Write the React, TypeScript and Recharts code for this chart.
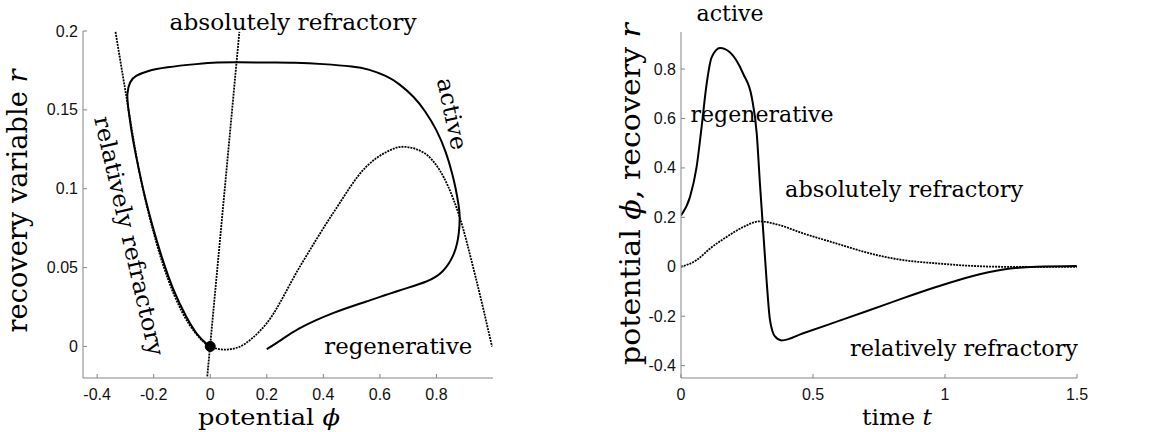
import React from 'react';
import { LineChart, Line, XAxis, YAxis, ReferenceDot } from 'recharts';

const AXIS_COLOR = '#858585';
const SERIF = '"DejaVu Serif", serif';
const SANS = '"Liberation Sans", Arial, sans-serif';

// ---- left panel: phase plane (potential phi vs recovery r) ----
const phaseXTicks = [-0.4, -0.2, 0, 0.2, 0.4, 0.6, 0.8];
const phaseYTicks = [0, 0.05, 0.1, 0.15, 0.2];

// trajectory, starting at phi = 0.2 and returning to rest
const orbitPhi = [0.2, 0.25, 0.317, 0.434, 0.552, 0.669, 0.762, 0.821, 0.862, 0.879, 0.882, 0.878, 0.868, 0.855, 0.833, 0.8, 0.76, 0.72, 0.67, 0.62, 0.56, 0.5, 0.4, 0.3, 0.2, 0.1, 0.025, -0.05, -0.151, -0.221, -0.262, -0.283, -0.293, -0.289, -0.276, -0.258, -0.235, -0.205, -0.17, -0.13, -0.085, -0.045, -0.015, 0];
const orbitR = [-0.0017, 0.004, 0.0116, 0.0211, 0.0285, 0.0355, 0.041, 0.0475, 0.059, 0.0718, 0.0825, 0.09, 0.1, 0.11, 0.123, 0.137, 0.149, 0.158, 0.166, 0.1715, 0.1755, 0.1775, 0.179, 0.1798, 0.18, 0.1802, 0.18, 0.179, 0.177, 0.1745, 0.1715, 0.1675, 0.16, 0.15, 0.134, 0.117, 0.098, 0.077, 0.056, 0.036, 0.019, 0.0075, 0.002, 0];

// phi-nullcline (dotted cubic)
const nullPhi = [-0.335, -0.3, -0.25, -0.2, -0.15, -0.1, -0.05, 0, 0.05, 0.1, 0.15, 0.2, 0.317, 0.434, 0.552, 0.62, 0.68, 0.73, 0.786, 0.84, 0.882, 0.938, 0.9965];
const nullR = [0.1994, 0.162, 0.11, 0.072, 0.043, 0.022, 0.008, 0, -0.002, -0.0005, 0.0055, 0.0148, 0.0506, 0.0844, 0.114, 0.123, 0.1266, 0.125, 0.118, 0.102, 0.082, 0.0443, 0];

// r-nullcline (dotted, nearly vertical)
const rNullPhi = [-0.0105, 0.103];
const rNullR = [-0.019, 0.1994];

const restPoint = { x: 0, y: 0 };

// ---- right panel: time courses ----
const timeXTicks = [0, 0.5, 1, 1.5];
const timeYTicks = [-0.4, -0.2, 0, 0.2, 0.4, 0.6, 0.8];

const phiT = [0, 0.034, 0.059, 0.078, 0.097, 0.116, 0.148, 0.186, 0.236, 0.268, 0.287, 0.299, 0.312, 0.325, 0.337, 0.356, 0.381, 0.463, 0.59, 0.716, 0.842, 0.969, 1.095, 1.221, 1.347, 1.499];
const phiV = [0.208, 0.282, 0.403, 0.565, 0.739, 0.847, 0.885, 0.867, 0.78, 0.686, 0.538, 0.336, 0.135, -0.067, -0.215, -0.282, -0.298, -0.269, -0.222, -0.175, -0.127, -0.081, -0.04, -0.011, 0, 0.003];

const recT = [0, 0.059, 0.11, 0.173, 0.236, 0.299, 0.362, 0.463, 0.59, 0.716, 0.842, 0.969, 1.095, 1.22, 1.5];
const recV = [0, 0.027, 0.074, 0.121, 0.161, 0.184, 0.172, 0.135, 0.094, 0.054, 0.027, 0.0137, 0.004, 0, 0];

// annotations: text and anchor in data coords
const phaseNotes = [
  { text: 'absolutely refractory', x: 0.293, y: 0.2009 },
  { text: 'regenerative', x: 0.665, y: -0.0049 },
  { text: 'active', x: 0.852, y: 0.1473, angle: 78 },
  { text: 'relatively refractory', x: -0.29, y: 0.07, angle: 77 },
];
const timeNotes = [
  { text: 'active', x: 0.186, y: 0.995 },
  { text: 'regenerative', x: 0.307, y: 0.585 },
  { text: 'absolutely refractory', x: 0.845, y: 0.282 },
  { text: 'relatively refractory', x: 1.072, y: -0.36 },
];
const noteLength: Record<string, number[]> = {
  phase: [247, 148, 73, 245],
  time: [67, 143, 238, 228],
};

const zip = (xs: number[], ys: number[]) => xs.map((x, i) => ({ x, y: ys[i] }));

const XTick = (props: any) => {
  const { x, y, payload } = props;
  return (
    <g>
      <line x1={x} y1={y} x2={x} y2={y - 4} stroke={AXIS_COLOR} />
      <text x={x} y={y + 16} textAnchor="middle" dominantBaseline="central" fontFamily={SANS} fontSize={16} fill="#111">
        {String(payload.value)}
      </text>
    </g>
  );
};

const YTick = (props: any) => {
  const { x, y, payload } = props;
  return (
    <g>
      <line x1={x} y1={y} x2={x + 4} y2={y} stroke={AXIS_COLOR} />
      <text x={x - 5} y={y} textAnchor="end" dominantBaseline="central" fontFamily={SANS} fontSize={16} fill="#111">
        {String(payload.value)}
      </text>
    </g>
  );
};

const noteShape = (text: string, len: number, angle?: number) => (p: any) => {
  const { cx, cy } = p;
  return (
    <text
      x={cx}
      y={cy}
      dy={angle ? '0.3em' : 0}
      textAnchor="middle"
      fontFamily={SERIF}
      fontSize={23}
      fill="#000"
      textLength={len}
      lengthAdjust="spacingAndGlyphs"
      transform={angle ? `rotate(${angle} ${cx} ${cy})` : undefined}
    >
      {text}
    </text>
  );
};

const XTitle = (props: any) => {
  const vb = props.viewBox || {};
  const cx = vb.x + vb.width / 2 + props.shift;
  return (
    <text x={cx} y={vb.y + 47} textAnchor="middle" fontFamily={SERIF} fontSize={23} textLength={props.len} lengthAdjust="spacingAndGlyphs">
      <tspan>{props.main}</tspan>
      <tspan fontStyle="italic">{props.sym}</tspan>
    </text>
  );
};

const YTitle = (props: any) => {
  const vb = props.viewBox || {};
  const cx = vb.x + props.left;
  const cy = vb.y + vb.height / 2 + props.shift;
  return (
    <text x={cx} y={cy} dy="0.3em" textAnchor="middle" fontFamily={SERIF} fontSize={props.size} textLength={props.len} lengthAdjust="spacingAndGlyphs" transform={`rotate(-90 ${cx} ${cy})`}>
      <tspan>{props.main}</tspan>
      <tspan fontStyle="italic">{props.sym}</tspan>
      {props.tail ? <tspan>{props.tail}</tspan> : null}
      {props.sym2 ? <tspan fontStyle="italic">{props.sym2}</tspan> : null}
    </text>
  );
};

function PhasePlane() {
  return (
    <LineChart width={560} height={432} margin={{ top: 31, right: 67, bottom: 0, left: 0 }}>
      <XAxis
        type="number"
        dataKey="x"
        domain={[-0.45, 1]}
        allowDataOverflow
        ticks={phaseXTicks}
        interval={0}
        tickSize={0}
        tickMargin={0}
        tickLine={false}
        tick={<XTick />}
        axisLine={{ stroke: AXIS_COLOR }}
        height={54}
        label={<XTitle shift={-19} len={142} main="potential " sym="ϕ" />}
      />
      <YAxis
        type="number"
        dataKey="y"
        domain={[-0.02, 0.2]}
        allowDataOverflow
        ticks={phaseYTicks}
        interval={0}
        tickSize={0}
        tickMargin={0}
        tickLine={false}
        tick={<YTick />}
        axisLine={{ stroke: AXIS_COLOR }}
        width={83}
        label={<YTitle left={19} shift={-3.5} size={27} len={263} main="recovery variable " sym="r" />}
      />
      <Line data={zip(nullPhi, nullR)} dataKey="y" type="monotone" stroke="#000" strokeWidth={1.8} strokeDasharray="2 1" dot={false} activeDot={false} isAnimationActive={false} />
      <Line data={zip(rNullPhi, rNullR)} dataKey="y" type="linear" stroke="#000" strokeWidth={1.8} strokeDasharray="2 1" dot={false} activeDot={false} isAnimationActive={false} />
      <Line data={zip(orbitPhi, orbitR)} dataKey="y" type="natural" stroke="#000" strokeWidth={2} dot={false} activeDot={false} isAnimationActive={false} />
      <ReferenceDot x={restPoint.x} y={restPoint.y} r={5} fill="#000" stroke="#000" ifOverflow="visible" />
      {phaseNotes.map((n, i) => (
        <ReferenceDot key={n.text + i} x={n.x} y={n.y} r={0} ifOverflow="visible" shape={noteShape(n.text, noteLength.phase[i], n.angle)} />
      ))}
    </LineChart>
  );
}

function TimeCourse() {
  return (
    <LineChart width={581} height={432} margin={{ top: 32, right: 74, bottom: 0, left: 0 }}>
      <XAxis
        type="number"
        dataKey="x"
        domain={[0, 1.5]}
        allowDataOverflow
        ticks={timeXTicks}
        interval={0}
        tickSize={0}
        tickMargin={0}
        tickLine={false}
        tick={<XTick />}
        axisLine={{ stroke: AXIS_COLOR }}
        height={54}
        label={<XTitle shift={18} len={70} main="time " sym="t" />}
      />
      <YAxis
        type="number"
        dataKey="y"
        domain={[-0.45, 0.95]}
        allowDataOverflow
        ticks={timeYTicks}
        interval={0}
        tickSize={0}
        tickMargin={0}
        tickLine={false}
        tick={<YTick />}
        axisLine={{ stroke: AXIS_COLOR }}
        width={111}
        label={<YTitle left={62} shift={-11} size={28} len={342} main="potential " sym="ϕ" tail=", recovery " sym2="r" />}
      />
      <Line data={zip(recT, recV)} dataKey="y" type="monotone" stroke="#000" strokeWidth={1.8} strokeDasharray="2 1" dot={false} activeDot={false} isAnimationActive={false} />
      <Line data={zip(phiT, phiV)} dataKey="y" type="monotone" stroke="#000" strokeWidth={2} dot={false} activeDot={false} isAnimationActive={false} />
      {timeNotes.map((n, i) => (
        <ReferenceDot key={n.text + i} x={n.x} y={n.y} r={0} ifOverflow="visible" shape={noteShape(n.text, noteLength.time[i])} />
      ))}
    </LineChart>
  );
}

export default function App() {
  return (
    <div style={{ position: 'absolute', left: 0, top: 0, width: 1151, height: 432, background: '#fff' }}>
      <div style={{ position: 'absolute', left: 0, top: 0 }}>
        <PhasePlane />
      </div>
      <div style={{ position: 'absolute', left: 570, top: 0 }}>
        <TimeCourse />
      </div>
    </div>
  );
}
